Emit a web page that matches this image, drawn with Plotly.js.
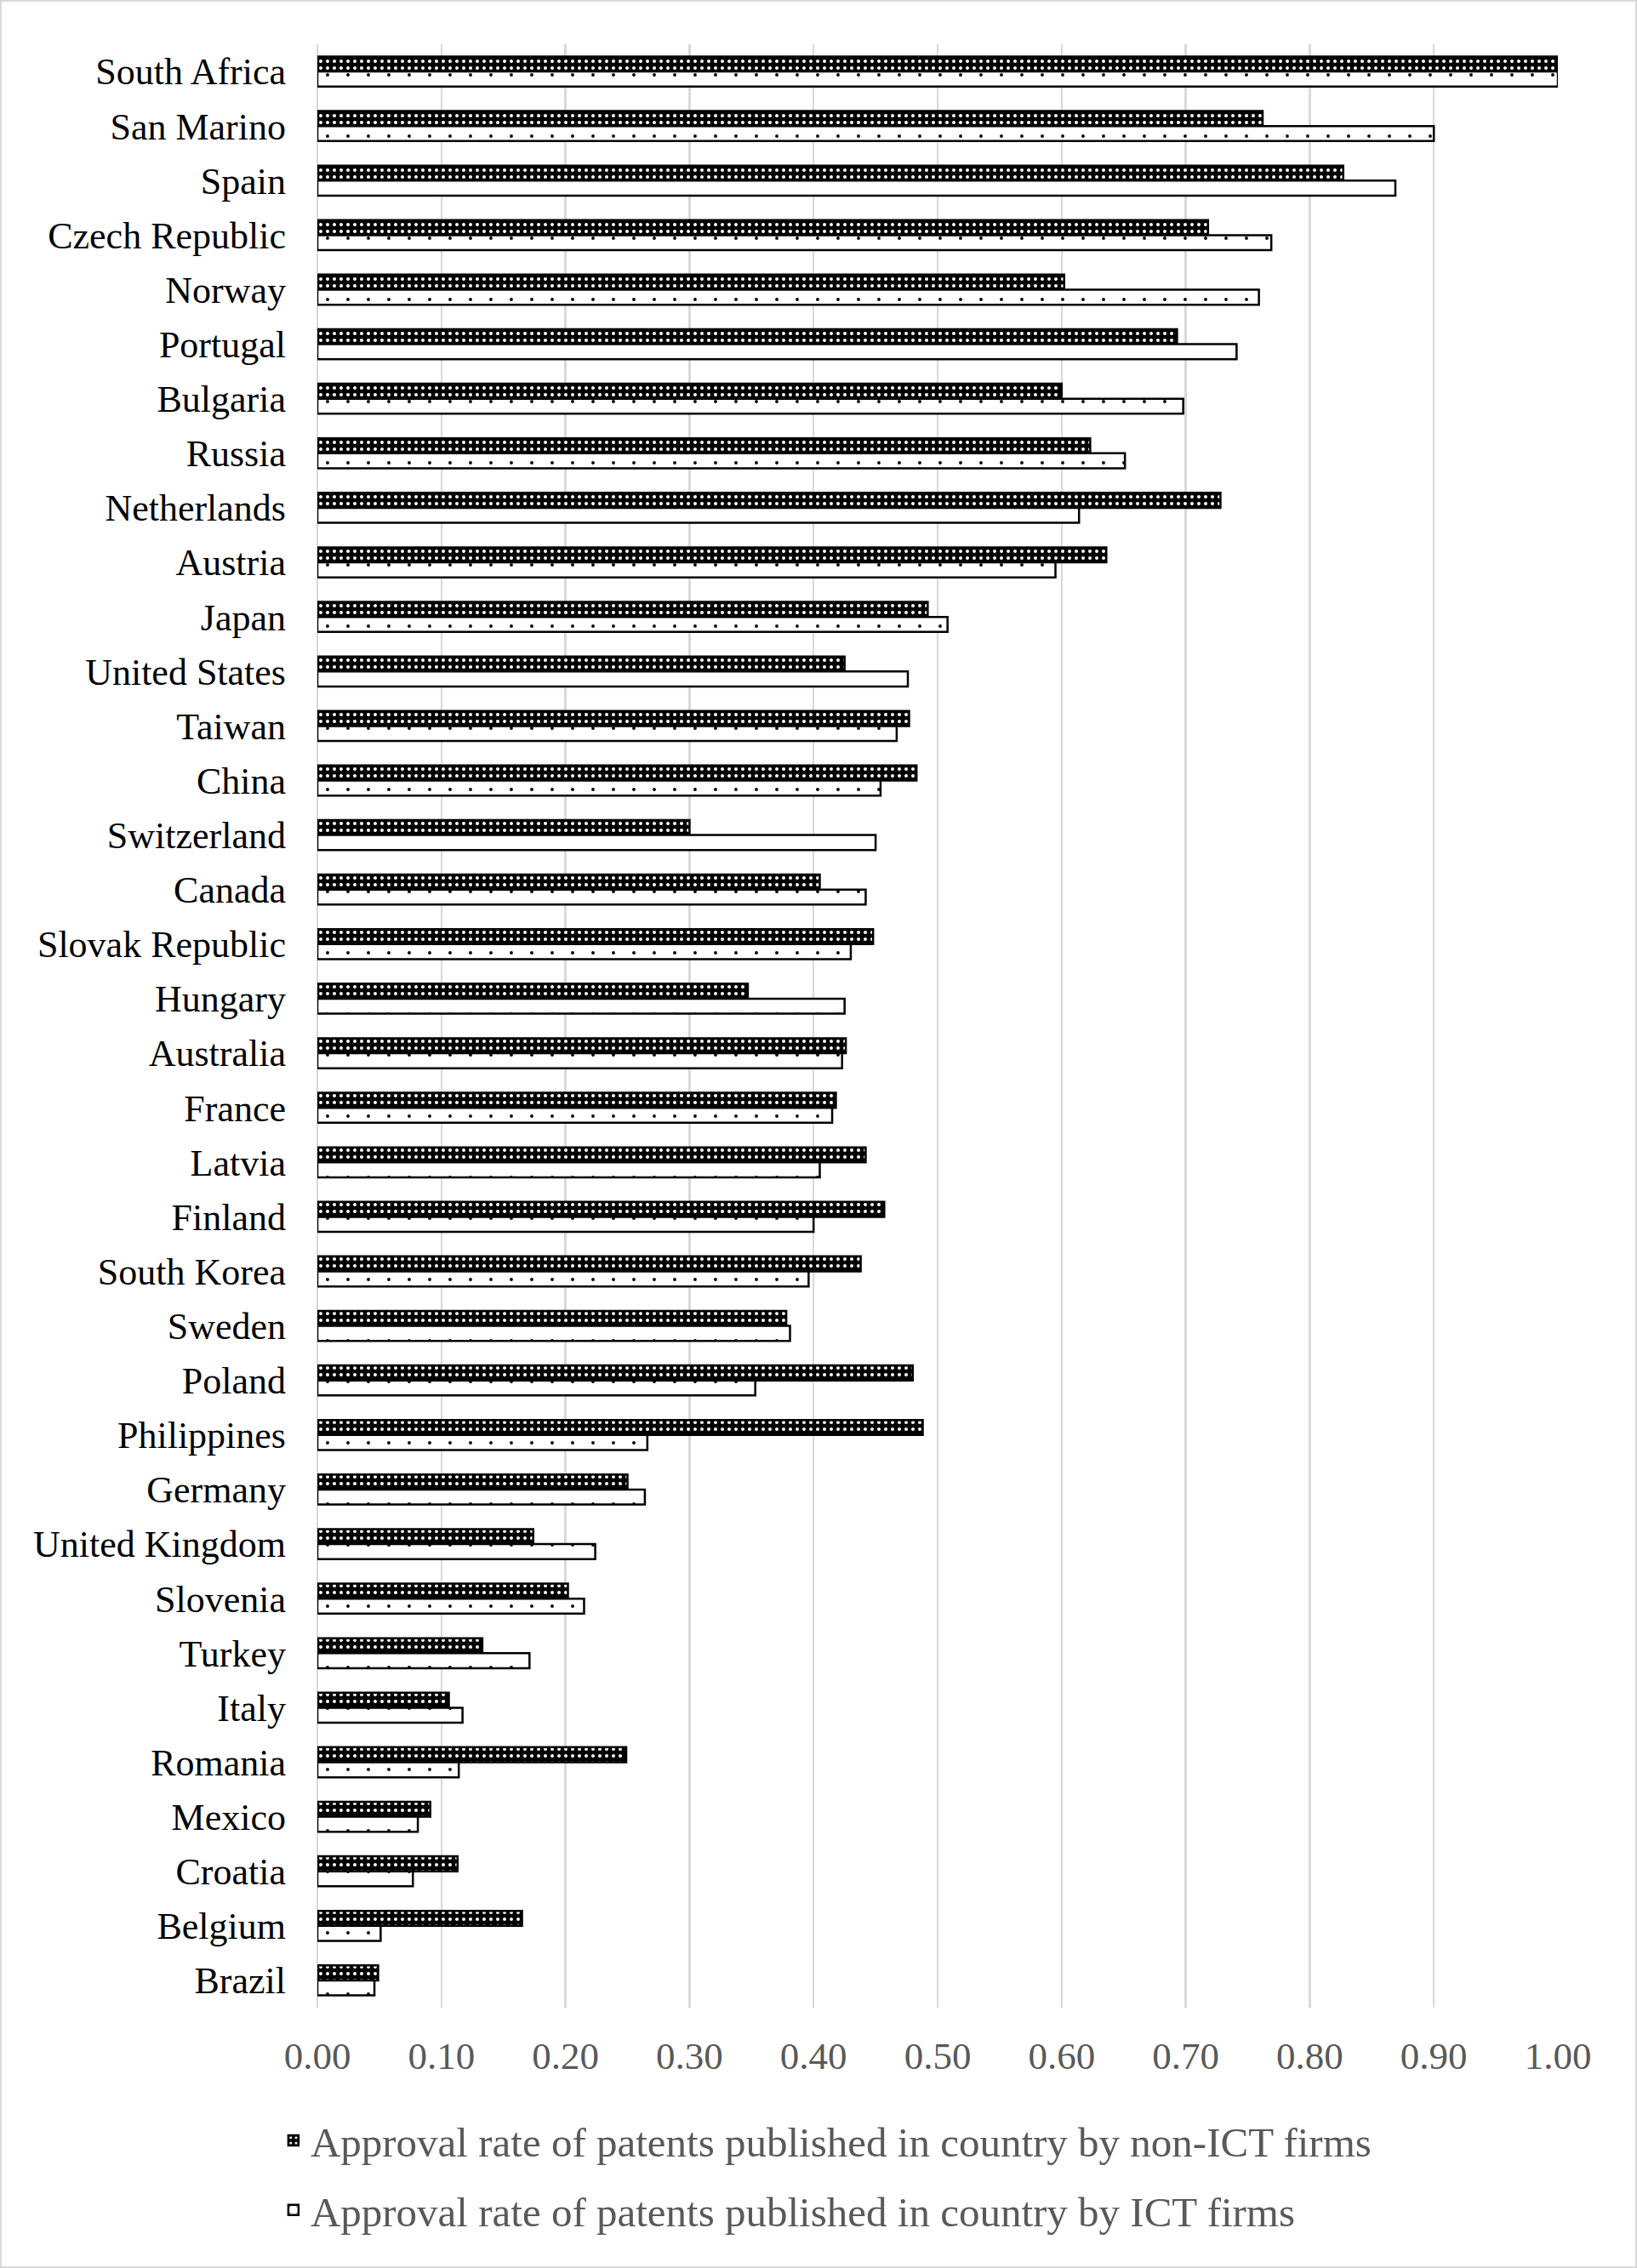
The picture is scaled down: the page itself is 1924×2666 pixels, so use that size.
<!DOCTYPE html>
<html>
<head>
<meta charset="utf-8">
<script src="https://cdn.plot.ly/plotly-3.0.1.min.js"></script>
<style>
  body { margin: 0; background: white; }
  #chart { width: 1920px; height: 2662px; border: 2px solid #d9d9d9; }
</style>
</head>
<body>
<div id="chart"></div>
<script>
// countries, top to bottom as in the figure
const countries = [
  'South Africa', 'San Marino', 'Spain', 'Czech Republic', 'Norway', 'Portugal',
  'Bulgaria', 'Russia', 'Netherlands', 'Austria', 'Japan', 'United States',
  'Taiwan', 'China', 'Switzerland', 'Canada', 'Slovak Republic', 'Hungary',
  'Australia', 'France', 'Latvia', 'Finland', 'South Korea', 'Sweden',
  'Poland', 'Philippines', 'Germany', 'United Kingdom', 'Slovenia', 'Turkey',
  'Italy', 'Romania', 'Mexico', 'Croatia', 'Belgium', 'Brazil'
];

// approval rate, non-ICT firms
const nonIctRate = [
  1.000, 0.762, 0.827, 0.718, 0.602, 0.693,
  0.600, 0.623, 0.728, 0.636, 0.492, 0.425,
  0.477, 0.483, 0.300, 0.405, 0.448, 0.347,
  0.426, 0.418, 0.442, 0.457, 0.438, 0.378,
  0.480, 0.488, 0.250, 0.174, 0.202, 0.133,
  0.106, 0.249, 0.091, 0.113, 0.165, 0.049
];

// approval rate, ICT firms
const ictRate = [
  1.000, 0.900, 0.869, 0.769, 0.759, 0.741,
  0.698, 0.651, 0.614, 0.595, 0.508, 0.476,
  0.467, 0.454, 0.450, 0.442, 0.430, 0.425,
  0.423, 0.415, 0.405, 0.400, 0.396, 0.381,
  0.353, 0.266, 0.264, 0.224, 0.215, 0.171,
  0.117, 0.114, 0.081, 0.077, 0.051, 0.046
];

const xTicks = [0, 0.1, 0.2, 0.3, 0.4, 0.5, 0.6, 0.7, 0.8, 0.9, 1.0];

const seriesNames = [
  'Approval rate of patents published in country by non-ICT firms',
  'Approval rate of patents published in country by ICT firms'
];

const serif = 'Liberation Serif, Times New Roman, serif';

const traces = [
  {
    type: 'bar',
    orientation: 'h',
    y: countries,
    x: nonIctRate,
    name: seriesNames[0],
    legendgroup: 'a',
    marker: {
      color: 'black',
      line: { color: 'black', width: 2.5 },
      pattern: { shape: '.', fgcolor: 'white', bgcolor: 'black', size: 8, solidity: 0.2, fillmode: 'replace' }
    }
  },
  {
    type: 'bar',
    orientation: 'h',
    y: countries,
    x: ictRate,
    name: seriesNames[1],
    legendgroup: 'b',
    marker: {
      color: 'white',
      line: { color: 'black', width: 2.5 },
      pattern: { shape: '.', fgcolor: 'black', bgcolor: 'white', size: 24, solidity: 0.02, fillmode: 'replace' }
    }
  }
];

const layout = {
  width: 1920,
  height: 2662,
  margin: { l: 371, r: 91, t: 50, b: 304 },
  paper_bgcolor: 'white',
  plot_bgcolor: 'white',
  barmode: 'group',
  bargap: 0.45,
  bargroupgap: 0,
  font: { family: serif, size: 45, color: '#595959' },
  xaxis: {
    range: [0, 1],
    tickvals: xTicks,
    tickformat: '.2f',
    showgrid: true,
    gridcolor: '#d9d9d9',
    gridwidth: 2.5,
    zeroline: true,
    zerolinecolor: '#d9d9d9',
    zerolinewidth: 2.5,
    showline: false,
    ticks: '',
    ticklabelstandoff: 26,
    tickfont: { family: serif, size: 45, color: '#595959' }
  },
  yaxis: {
    type: 'category',
    autorange: 'reversed',
    showgrid: false,
    zeroline: false,
    showline: false,
    ticks: '',
    ticklabelstandoff: 36,
    tickfont: { family: serif, size: 44, color: 'black' }
  },
  showlegend: true,
  legend: {
    orientation: 'v',
    traceorder: 'grouped',
    tracegroupgap: 15,
    x: -0.033,
    xanchor: 'left',
    y: 0.07,
    yref: 'container',
    yanchor: 'top',
    bgcolor: 'rgba(0,0,0,0)',
    font: { family: serif, size: 49, color: '#595959' }
  }
};

Plotly.newPlot('chart', traces, layout, { staticPlot: true, displayModeBar: false });
</script>
</body>
</html>
